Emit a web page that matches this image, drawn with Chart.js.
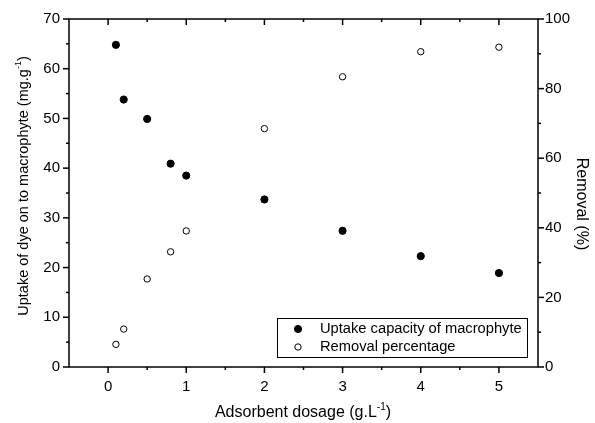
<!DOCTYPE html>
<html>
<head>
<meta charset="utf-8">
<script src="https://cdn.jsdelivr.net/npm/chart.js@4.4.1/dist/chart.umd.min.js"></script>
<style>
  html, body { margin: 0; padding: 0; background: #fff; }
</style>
</head>
<body>
<canvas id="myChart" width="595" height="423"></canvas>
<script>
// data
const dosage = [0.1, 0.2, 0.5, 0.8, 1, 2, 3, 4, 5];
const uptake = [64.8, 53.8, 49.9, 40.9, 38.5, 33.7, 27.4, 22.3, 18.9];
const removal = [6.5, 10.9, 25.3, 33.1, 39.1, 68.5, 83.4, 90.6, 91.9];
const seriesNames = ['Uptake capacity of macrophyte', 'Removal percentage'];

const xTicks = [0, 1, 2, 3, 4, 5];
const uptakeTicks = [0, 10, 20, 30, 40, 50, 60, 70];
const removalTicks = [0, 20, 40, 60, 80, 100];

const FONT = '"Liberation Sans", Arial, Helvetica, sans-serif';

function midpoints(arr) {
  const out = [];
  for (let i = 0; i < arr.length - 1; i++) out.push((arr[i] + arr[i + 1]) / 2);
  return out;
}

// frame + major/minor ticks (Origin style)
const framePlugin = {
  id: 'frame',
  beforeDatasetsDraw(chart) {
    const { ctx, chartArea: a, scales } = chart;
    ctx.save();
    ctx.strokeStyle = '#000';
    ctx.lineWidth = 1.5;
    ctx.strokeRect(a.left, a.top, a.right - a.left, a.bottom - a.top);
    const line = (x1, y1, x2, y2) => {
      ctx.beginPath(); ctx.moveTo(x1, y1); ctx.lineTo(x2, y2); ctx.stroke();
    };
    const major = 6, minor = 3;
    xTicks.forEach(v => {
      const px = scales.x.getPixelForValue(v);
      line(px, a.bottom, px, a.bottom + major);
      line(px, a.top, px, a.top + major);
    });
    midpoints(xTicks).forEach(v => {
      const px = scales.x.getPixelForValue(v);
      line(px, a.bottom, px, a.bottom + minor);
      line(px, a.top, px, a.top + minor);
    });
    uptakeTicks.forEach(v => {
      const py = scales.y.getPixelForValue(v);
      line(a.left - major, py, a.left, py);
    });
    midpoints(uptakeTicks).forEach(v => {
      const py = scales.y.getPixelForValue(v);
      line(a.left - minor, py, a.left, py);
    });
    removalTicks.forEach(v => {
      const py = scales.y1.getPixelForValue(v);
      line(a.right, py, a.right + major, py);
    });
    midpoints(removalTicks).forEach(v => {
      const py = scales.y1.getPixelForValue(v);
      line(a.right, py, a.right + minor, py);
    });
    ctx.restore();
  }
};

// text with a superscript part
function drawParts(ctx, parts, size, align) {
  const supSize = Math.round(size * 0.62);
  let total = 0;
  parts.forEach(p => {
    ctx.font = (p.sup ? supSize : size) + 'px ' + FONT;
    p.w = ctx.measureText(p.t).width;
    total += p.w;
  });
  let x = align === 'center' ? -total / 2 : 0;
  ctx.textAlign = 'left';
  ctx.textBaseline = 'alphabetic';
  parts.forEach(p => {
    ctx.font = (p.sup ? supSize : size) + 'px ' + FONT;
    ctx.fillText(p.t, x, p.sup ? -size * 0.45 : 0);
    x += p.w;
  });
}

const titlesPlugin = {
  id: 'titles',
  afterDraw(chart) {
    const { ctx } = chart;
    ctx.save();
    ctx.fillStyle = '#000';
    // x title
    ctx.save();
    ctx.translate(303, 417);
    drawParts(ctx, [{ t: 'Adsorbent dosage (g.L' }, { t: '-1', sup: true }, { t: ')' }], 16, 'center');
    ctx.restore();
    // left title
    ctx.save();
    ctx.translate(28, 186);
    ctx.rotate(-Math.PI / 2);
    drawParts(ctx, [{ t: 'Uptake of dye on to macrophyte (mg.g' }, { t: '-1', sup: true }, { t: ')' }], 14.5, 'center');
    ctx.restore();
    // right title
    ctx.save();
    ctx.translate(577, 204);
    ctx.rotate(Math.PI / 2);
    drawParts(ctx, [{ t: 'Removal (%)' }], 16, 'center');
    ctx.restore();
    ctx.restore();
  }
};

// boxed legend inside the plot
const boxLegend = {
  id: 'boxLegend',
  afterDraw(chart) {
    const { ctx } = chart;
    const bx = 277, by = 318, bw = 250, bh = 39;
    ctx.save();
    ctx.fillStyle = '#fff';
    ctx.fillRect(bx, by, bw, bh);
    ctx.strokeStyle = '#000';
    ctx.lineWidth = 1;
    ctx.strokeRect(bx + 0.5, by + 0.5, bw, bh);
    chart.data.datasets.forEach((ds, i) => {
      const cy = 329 + i * 18;
      ctx.beginPath();
      ctx.arc(298, cy, ds.pointRadius, 0, Math.PI * 2);
      ctx.fillStyle = ds.pointBackgroundColor;
      ctx.fill();
      ctx.lineWidth = ds.pointBorderWidth;
      ctx.strokeStyle = ds.pointBorderColor;
      ctx.stroke();
      ctx.fillStyle = '#000';
      ctx.font = '14.7px ' + FONT;
      ctx.textAlign = 'left';
      ctx.textBaseline = 'middle';
      ctx.fillText(ds.label, 320, cy);
    });
    ctx.restore();
  }
};

const tickFont = { family: FONT, size: 15 };

const ctx = document.getElementById('myChart').getContext('2d');
new Chart(ctx, {
  type: 'scatter',
  data: {
    datasets: [
      {
        label: seriesNames[0],
        data: dosage.map((d, i) => ({ x: d, y: uptake[i] })),
        yAxisID: 'y',
        pointRadius: 3.6,
        pointBackgroundColor: '#000',
        pointBorderColor: '#000',
        pointBorderWidth: 1
      },
      {
        label: seriesNames[1],
        data: dosage.map((d, i) => ({ x: d, y: removal[i] })),
        yAxisID: 'y1',
        pointRadius: 3.2,
        pointBackgroundColor: '#fff',
        pointBorderColor: '#000',
        pointBorderWidth: 1
      }
    ]
  },
  options: {
    responsive: false,
    animation: false,
    devicePixelRatio: 1,
    layout: { padding: { top: 19, left: 0, right: 0, bottom: 0 } },
    plugins: {
      legend: { display: false },
      tooltip: { enabled: false }
    },
    scales: {
      x: {
        type: 'linear',
        position: 'bottom',
        min: -0.5,
        max: 5.5,
        afterBuildTicks: s => { s.ticks = xTicks.map(v => ({ value: v })); },
        afterFit: s => { s.height = 56; },
        grid: { display: false, drawTicks: false },
        border: { display: false },
        ticks: { color: '#000', font: tickFont, padding: 11 }
      },
      y: {
        type: 'linear',
        position: 'left',
        min: 0,
        max: 70,
        afterBuildTicks: s => { s.ticks = uptakeTicks.map(v => ({ value: v })); },
        afterFit: s => { s.width = 69; },
        grid: { display: false, drawTicks: false },
        border: { display: false },
        ticks: { color: '#000', font: tickFont, padding: 9 }
      },
      y1: {
        type: 'linear',
        position: 'right',
        min: 0,
        max: 100,
        afterBuildTicks: s => { s.ticks = removalTicks.map(v => ({ value: v })); },
        afterFit: s => { s.width = 57; },
        grid: { display: false, drawTicks: false },
        border: { display: false },
        ticks: { color: '#000', font: tickFont, padding: 7 }
      }
    }
  },
  plugins: [framePlugin, titlesPlugin, boxLegend]
});
</script>
</body>
</html>
